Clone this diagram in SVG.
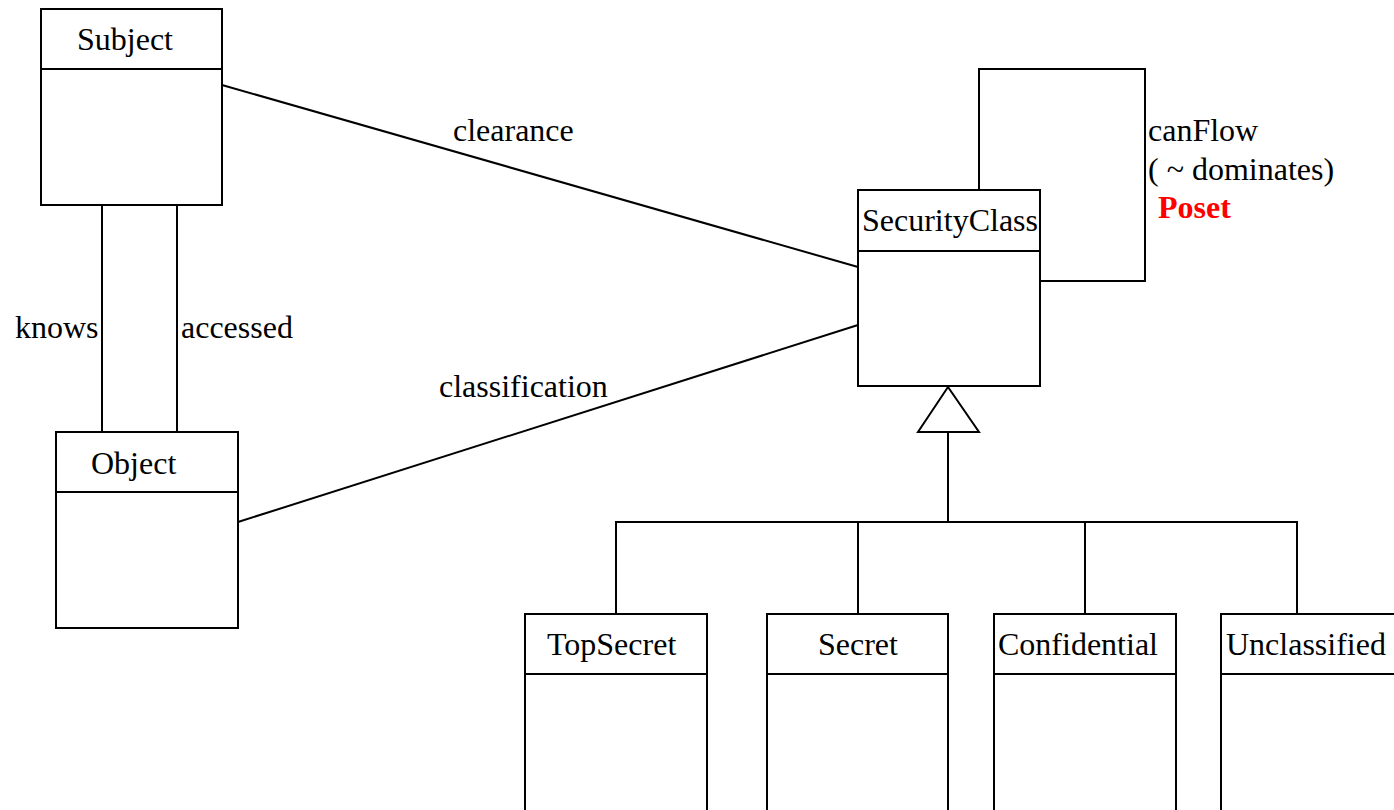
<svg xmlns="http://www.w3.org/2000/svg" width="1394" height="810" viewBox="0 0 1394 810">
  <style>
    .box { fill: #fff; stroke: #000; stroke-width: 2; }
    .div { stroke: #000; stroke-width: 2; }
    .edge { fill: none; stroke: #000; stroke-width: 2; }
    text { font-family: "Liberation Serif", "Times New Roman", serif; font-size: 32px; fill: #000; }
    .poset { font-weight: bold; fill: #ff0000; }
  </style>
  <rect width="1394" height="810" fill="#fff"/>

  <!-- associations and generalization -->
  <g id="connectors">
    <line class="edge" x1="222" y1="85" x2="858" y2="267"/>
    <line class="edge" x1="238" y1="522" x2="858" y2="325"/>
    <line class="edge" x1="102" y1="205" x2="102" y2="432"/>
    <line class="edge" x1="177" y1="205" x2="177" y2="432"/>
    <polyline class="edge" points="979,190 979,69 1145,69 1145,281 1040,281"/>
    <polygon class="edge" points="948,387 918,432 979,432"/>
    <line class="edge" x1="948" y1="432" x2="948" y2="522"/>
    <polyline class="edge" points="616,614 616,522 1297,522 1297,614"/>
    <line class="edge" x1="858" y1="522" x2="858" y2="614"/>
    <line class="edge" x1="1085" y1="522" x2="1085" y2="614"/>
    <text x="453" y="141">clearance</text>
    <text x="439" y="397">classification</text>
    <text x="15" y="338">knows</text>
    <text x="181" y="338">accessed</text>
    <text x="1148" y="141">canFlow</text>
    <text x="1148" y="180">( ~ dominates)</text>
    <text class="poset" x="1158" y="218">Poset</text>
  </g>

  <g id="subject">
    <rect class="box" x="41" y="9" width="181" height="196"/>
    <line class="div" x1="41" y1="69" x2="222" y2="69"/>
    <text x="77" y="50">Subject</text>
  </g>

  <g id="object">
    <rect class="box" x="56" y="432" width="182" height="196"/>
    <line class="div" x1="56" y1="492" x2="238" y2="492"/>
    <text x="91" y="474">Object</text>
  </g>

  <g id="security-class">
    <rect class="box" x="858" y="190" width="182" height="196"/>
    <line class="div" x1="858" y1="251" x2="1040" y2="251"/>
    <text x="862" y="231">SecurityClass</text>
  </g>

  <g id="top-secret">
    <rect class="box" x="525" y="614" width="182" height="210"/>
    <line class="div" x1="525" y1="674" x2="707" y2="674"/>
    <text x="547" y="655">TopSecret</text>
  </g>

  <g id="secret">
    <rect class="box" x="767" y="614" width="181" height="210"/>
    <line class="div" x1="767" y1="674" x2="948" y2="674"/>
    <text x="818" y="655">Secret</text>
  </g>

  <g id="confidential">
    <rect class="box" x="994" y="614" width="182" height="210"/>
    <line class="div" x1="994" y1="674" x2="1176" y2="674"/>
    <text x="998" y="655">Confidential</text>
  </g>

  <g id="unclassified">
    <rect class="box" x="1221" y="614" width="190" height="210"/>
    <line class="div" x1="1221" y1="674" x2="1411" y2="674"/>
    <text x="1226" y="655">Unclassified</text>
  </g>
</svg>
